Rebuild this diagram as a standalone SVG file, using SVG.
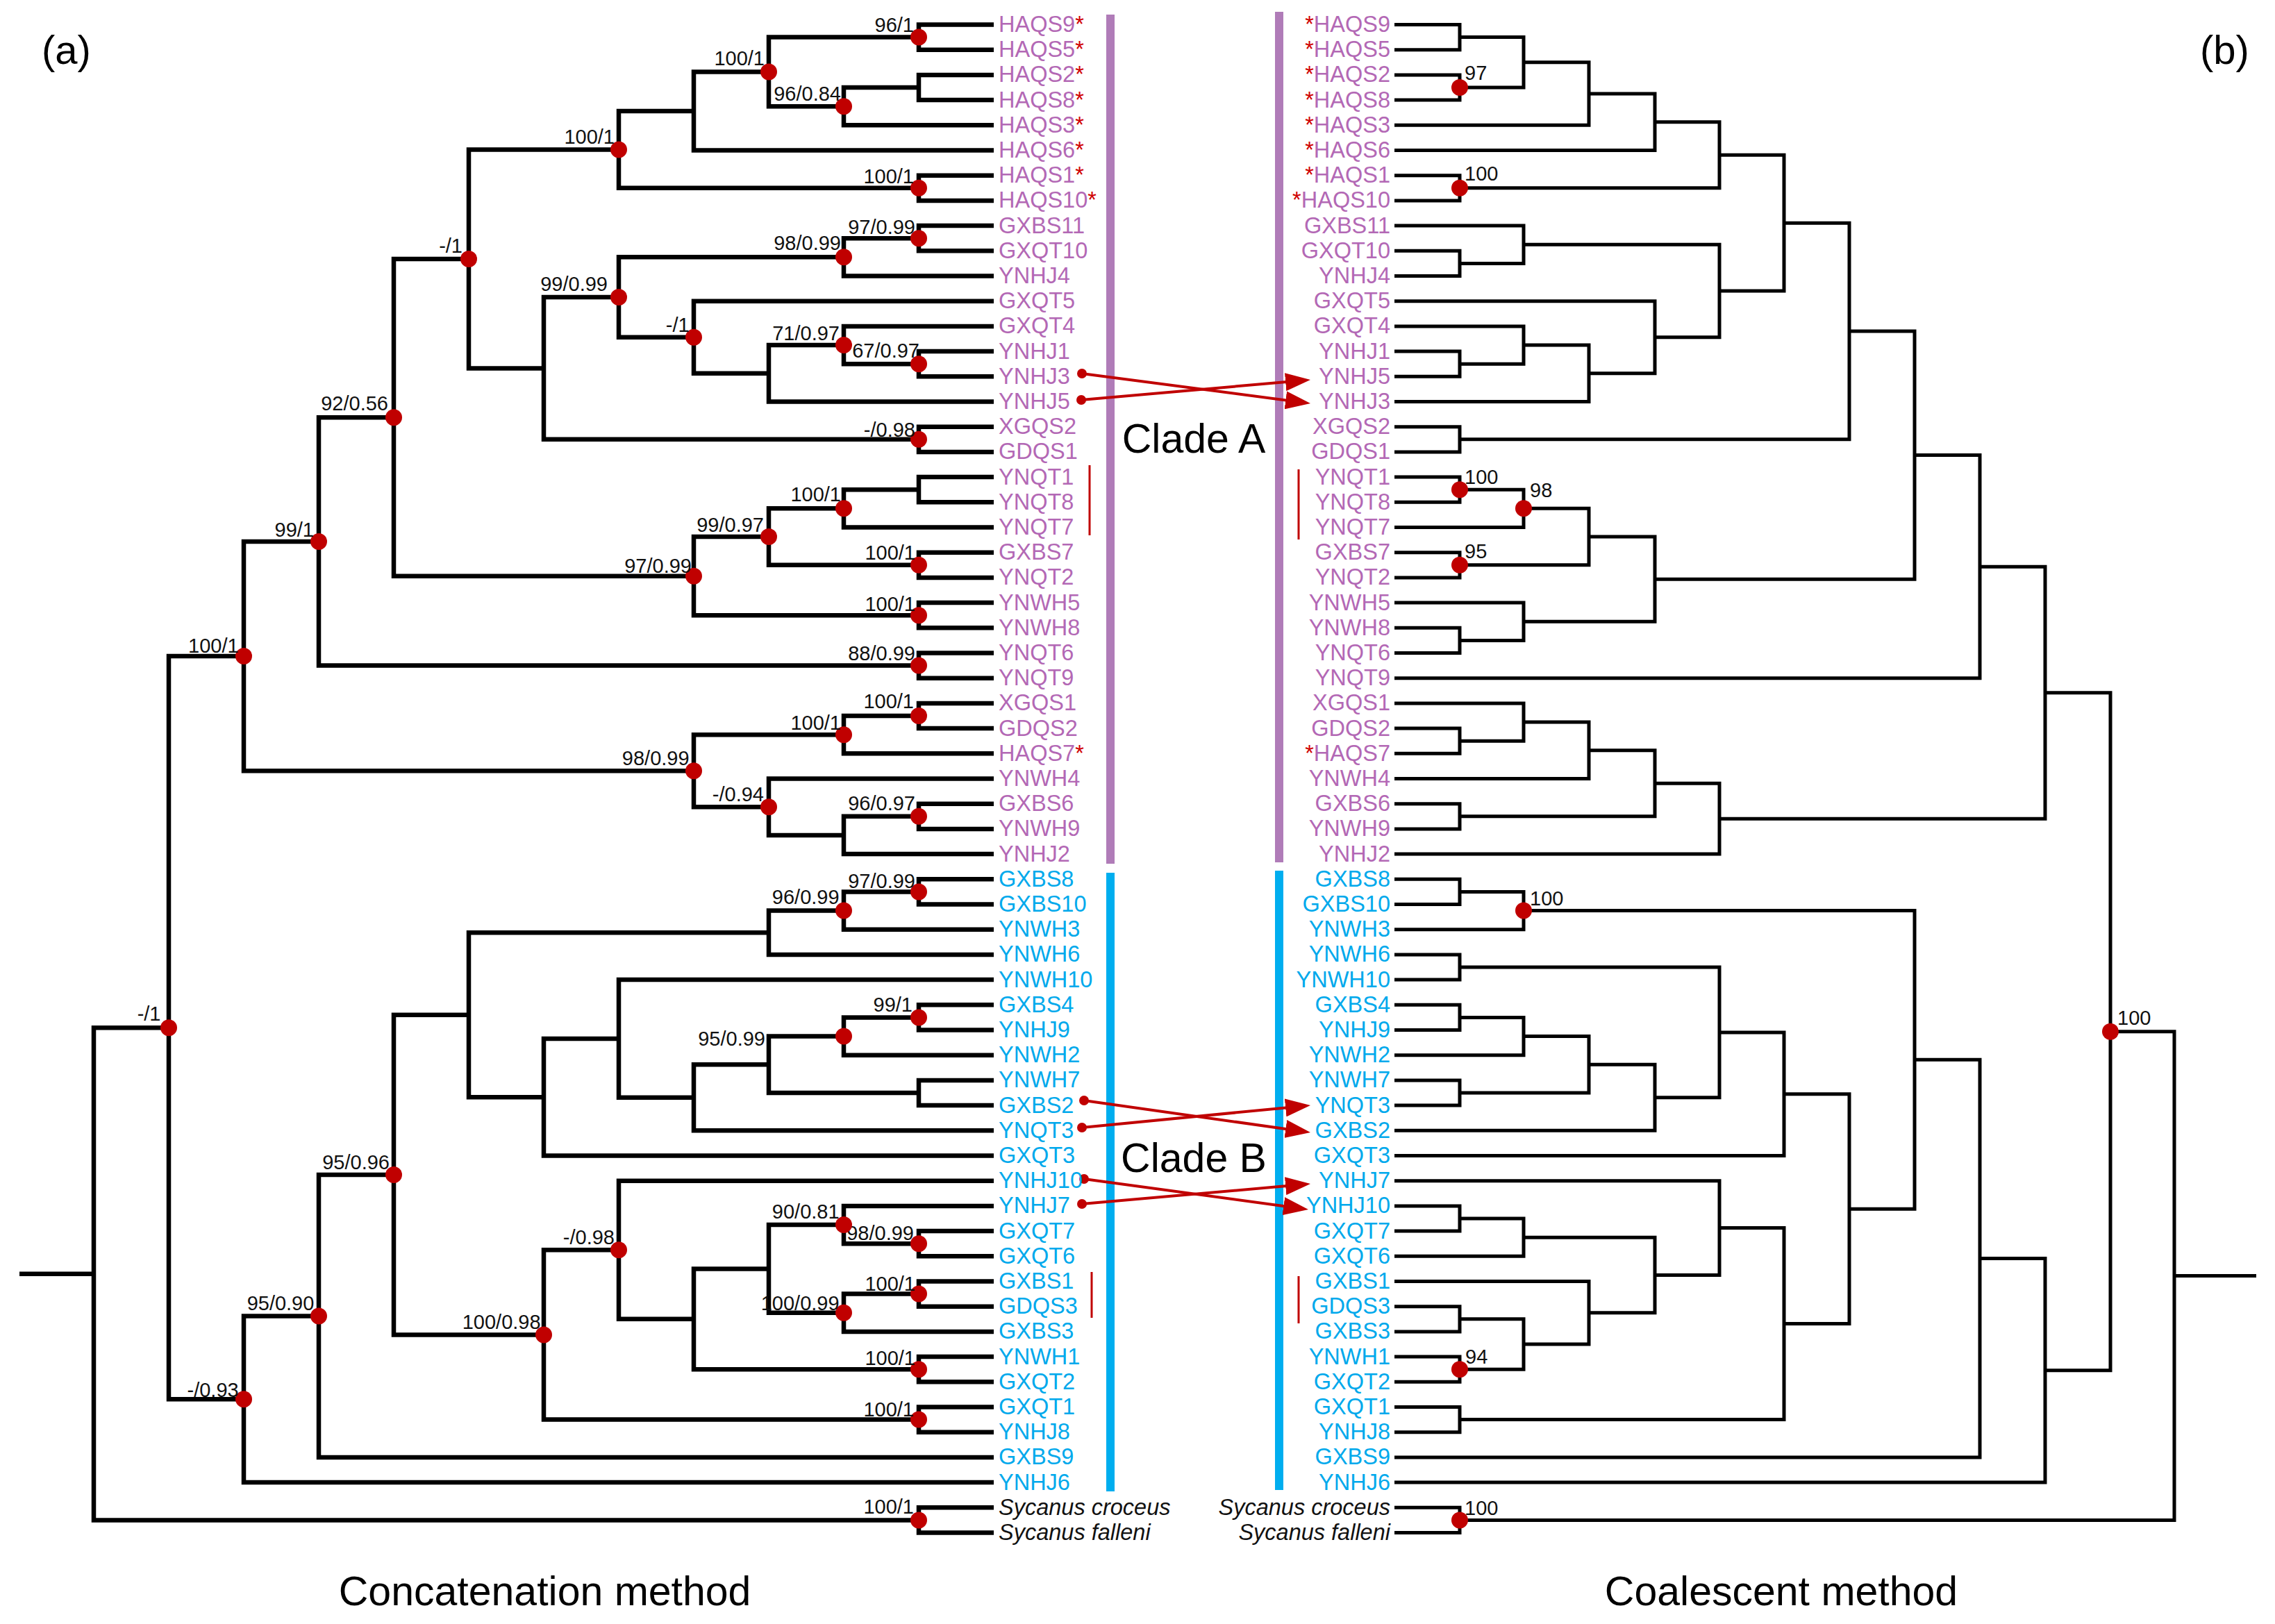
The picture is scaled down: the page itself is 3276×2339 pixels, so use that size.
<svg xmlns="http://www.w3.org/2000/svg" width="3276" height="2339" viewBox="0 0 3276 2339">
<style>
.ba{fill:none;stroke:#000;stroke-width:6.5;stroke-linejoin:miter}
.bb{fill:none;stroke:#000;stroke-width:5;stroke-linejoin:miter}
text{font-family:"Liberation Sans",Arial,sans-serif}
.la{font-size:32.5px;fill:#B368B5}
.lb{font-size:32.5px;fill:#00A9EC}
.lo{font-size:32.5px;fill:#111;font-style:italic}
.ast{fill:#D00000}
.r{text-anchor:end}
.sup{font-size:29px;fill:#111}
.dot{fill:#C00000}
.arr{stroke:#C00000;stroke-width:4;fill:none}
.sdot{fill:#C00000}
.big{font-size:59px;fill:#000}
.mid{text-anchor:middle}
.barA{fill:#B07CB8}
.barB{fill:#00AEEF}
.mark{stroke:#C00000;stroke-width:3}
</style>
<defs>
<marker id="ah" markerUnits="userSpaceOnUse" markerWidth="36" markerHeight="26" refX="16" refY="13" orient="auto">
<path d="M0,0 L36,13 L0,26 Z" fill="#C00000"/>
</marker>
</defs>
<rect width="3276" height="2339" fill="#fff"/>

<g id="titles">
<text x="60" y="92" font-size="58">(a)</text>
<text x="3168" y="92" font-size="58">(b)</text>
<text class="big mid" x="784.6" y="2312">Concatenation method</text>
<text class="big mid" x="2565" y="2312">Coalescent method</text>
</g>

<g id="clade-bars">
<rect class="barA" x="1593" y="21" width="12" height="1223"/>
<rect class="barA" x="1836" y="17" width="12" height="1225"/>
<rect class="barB" x="1593" y="1257" width="12" height="891"/>
<rect class="barB" x="1836" y="1254" width="12" height="892"/>
<text class="big mid" x="1719" y="652">Clade A</text>
<text class="big mid" x="1719" y="1688">Clade B</text>
<line class="mark" x1="1569" y1="670" x2="1569" y2="771"/>
<line class="mark" x1="1870" y1="676" x2="1870" y2="777"/>
<line class="mark" x1="1572" y1="1832" x2="1572" y2="1898"/>
<line class="mark" x1="1870" y1="1838" x2="1870" y2="1906"/>
</g>

<g id="connectors">
<g id="branches-concatenation" class="ba">
<path d="M1431 35.5H1323V71.7H1431"/>
<path d="M1431 107.9H1323V144.1H1431"/>
<path d="M1323 126H1215V180.3H1431"/>
<path d="M1323 53.6H1107V153.15H1215"/>
<path d="M1107 103.4H999V216.5H1431"/>
<path d="M1431 252.7H1323V288.9H1431"/>
<path d="M999 159.95H891V270.8H1323"/>
<path d="M1431 325.1H1323V361.3H1431"/>
<path d="M1323 343.2H1215V397.5H1431"/>
<path d="M1431 506.1H1323V542.3H1431"/>
<path d="M1431 469.9H1215V524.2H1323"/>
<path d="M1215 497.05H1107V578.5H1431"/>
<path d="M1431 433.7H999V537.8H1107"/>
<path d="M1215 370.35H891V485.75H999"/>
<path d="M1431 614.7H1323V650.9H1431"/>
<path d="M891 428.05H783V632.8H1323"/>
<path d="M891 215.4H675V530.4H783"/>
<path d="M1431 687.1H1323V723.3H1431"/>
<path d="M1323 705.2H1215V759.5H1431"/>
<path d="M1431 795.7H1323V831.9H1431"/>
<path d="M1215 732.35H1107V813.8H1323"/>
<path d="M1431 868.1H1323V904.3H1431"/>
<path d="M1107 773.1H999V886.2H1323"/>
<path d="M675 372.9H567V829.65H999"/>
<path d="M1431 940.5H1323V976.7H1431"/>
<path d="M567 601.3H459V958.6H1323"/>
<path d="M1431 1012.9H1323V1049.1H1431"/>
<path d="M1323 1031H1215V1085.3H1431"/>
<path d="M1431 1157.7H1323V1193.9H1431"/>
<path d="M1323 1175.8H1215V1230.1H1431"/>
<path d="M1431 1121.5H1107V1202.95H1215"/>
<path d="M1215 1058.15H999V1162.2H1107"/>
<path d="M459 779.95H351V1110.2H999"/>
<path d="M1431 1266.3H1323V1302.5H1431"/>
<path d="M1323 1284.4H1215V1338.7H1431"/>
<path d="M1215 1311.55H1107V1374.9H1431"/>
<path d="M1431 1447.3H1323V1483.5H1431"/>
<path d="M1323 1465.4H1215V1519.7H1431"/>
<path d="M1431 1555.9H1323V1592.1H1431"/>
<path d="M1215 1492.55H1107V1574H1323"/>
<path d="M1107 1533.3H999V1628.3H1431"/>
<path d="M1431 1411.1H891V1580.8H999"/>
<path d="M891 1495.95H783V1664.5H1431"/>
<path d="M1107 1343.2H675V1580.2H783"/>
<path d="M1431 1773.1H1323V1809.3H1431"/>
<path d="M1431 1736.9H1215V1791.2H1323"/>
<path d="M1431 1845.5H1323V1881.7H1431"/>
<path d="M1323 1863.6H1215V1917.9H1431"/>
<path d="M1215 1764.05H1107V1890.75H1215"/>
<path d="M1431 1954.1H1323V1990.3H1431"/>
<path d="M1107 1827.4H999V1972.2H1323"/>
<path d="M1431 1700.7H891V1899.8H999"/>
<path d="M1431 2026.5H1323V2062.7H1431"/>
<path d="M891 1800.25H783V2044.6H1323"/>
<path d="M675 1461.7H567V1922.4H783"/>
<path d="M567 1692.05H459V2098.9H1431"/>
<path d="M459 1895.5H351V2135.1H1431"/>
<path d="M351 945.1H243V2015.3H351"/>
<path d="M1431 2171.3H1323V2207.5H1431"/>
<path d="M243 1480.2H135V2189.4H1323"/>
<path d="M28 1834.8H135"/>
</g>
<g id="branches-coalescent" class="bb">
<path d="M2008 35.5H2102V71.7H2008"/>
<path d="M2008 107.9H2102V144.1H2008"/>
<path d="M2102 53.6H2194V126H2102"/>
<path d="M2194 89.8H2288V180.3H2008"/>
<path d="M2288 135.05H2383V216.5H2008"/>
<path d="M2008 252.7H2102V288.9H2008"/>
<path d="M2383 175.8H2476V270.8H2102"/>
<path d="M2008 361.3H2102V397.5H2008"/>
<path d="M2008 325.1H2194V379.4H2102"/>
<path d="M2008 506.1H2102V542.3H2008"/>
<path d="M2008 469.9H2194V524.2H2102"/>
<path d="M2194 497.05H2288V578.5H2008"/>
<path d="M2008 433.7H2383V537.8H2288"/>
<path d="M2194 352.25H2476V485.75H2383"/>
<path d="M2476 223.3H2569V419H2476"/>
<path d="M2008 614.7H2102V650.9H2008"/>
<path d="M2569 321.15H2663V632.8H2102"/>
<path d="M2008 687.1H2102V723.3H2008"/>
<path d="M2102 705.2H2194V759.5H2008"/>
<path d="M2008 795.7H2102V831.9H2008"/>
<path d="M2194 732.35H2288V813.8H2102"/>
<path d="M2008 904.3H2102V940.5H2008"/>
<path d="M2008 868.1H2194V922.4H2102"/>
<path d="M2288 773.1H2383V895.25H2194"/>
<path d="M2663 477H2757V834.2H2383"/>
<path d="M2757 655.6H2851V976.7H2008"/>
<path d="M2008 1049.1H2102V1085.3H2008"/>
<path d="M2008 1012.9H2194V1067.2H2102"/>
<path d="M2194 1040.05H2288V1121.5H2008"/>
<path d="M2008 1157.7H2102V1193.9H2008"/>
<path d="M2288 1080.8H2383V1175.8H2102"/>
<path d="M2383 1128.3H2476V1230.1H2008"/>
<path d="M2851 816.15H2945V1179.2H2476"/>
<path d="M2008 1266.3H2102V1302.5H2008"/>
<path d="M2102 1284.4H2194V1338.7H2008"/>
<path d="M2008 1374.9H2102V1411.1H2008"/>
<path d="M2008 1447.3H2102V1483.5H2008"/>
<path d="M2102 1465.4H2194V1519.7H2008"/>
<path d="M2008 1555.9H2102V1592.1H2008"/>
<path d="M2194 1492.55H2288V1574H2102"/>
<path d="M2288 1533.3H2383V1628.3H2008"/>
<path d="M2102 1393H2476V1580.8H2383"/>
<path d="M2476 1486.9H2569V1664.5H2008"/>
<path d="M2008 1736.9H2102V1773.1H2008"/>
<path d="M2102 1755H2194V1809.3H2008"/>
<path d="M2008 1881.7H2102V1917.9H2008"/>
<path d="M2008 1954.1H2102V1990.3H2008"/>
<path d="M2102 1899.8H2194V1972.2H2102"/>
<path d="M2008 1845.5H2288V1936H2194"/>
<path d="M2194 1782.15H2383V1890.75H2288"/>
<path d="M2008 1700.7H2476V1836.45H2383"/>
<path d="M2008 2026.5H2102V2062.7H2008"/>
<path d="M2476 1768.6H2569V2044.6H2102"/>
<path d="M2569 1575.7H2663V1906.6H2569"/>
<path d="M2194 1311.55H2757V1741.15H2663"/>
<path d="M2757 1526.35H2851V2098.9H2008"/>
<path d="M2851 1812.6H2945V2135.1H2008"/>
<path d="M2945 997.7H3039V1973.85H2945"/>
<path d="M2008 2171.3H2102V2207.5H2008"/>
<path d="M3039 1485.8H3131V2189.4H2102"/>
<path d="M3131 1837.6H3249"/>
</g>
<g id="swap-arrows">
<line class="arr" x1="1558" y1="538" x2="1867.2" y2="578.4" marker-end="url(#ah)"/>
<line class="arr" x1="1557" y1="576" x2="1867.1" y2="548.75" marker-end="url(#ah)"/>
<line class="arr" x1="1561" y1="1585" x2="1867.2" y2="1628.2" marker-end="url(#ah)"/>
<line class="arr" x1="1558" y1="1624" x2="1867.1" y2="1593.9" marker-end="url(#ah)"/>
<line class="arr" x1="1561" y1="1698" x2="1864.2" y2="1739.3" marker-end="url(#ah)"/>
<line class="arr" x1="1558" y1="1734" x2="1867.1" y2="1706.8" marker-end="url(#ah)"/>
<circle class="sdot" cx="1558" cy="538" r="7"/>
<circle class="sdot" cx="1557" cy="576" r="7"/>
<circle class="sdot" cx="1561" cy="1585" r="7"/>
<circle class="sdot" cx="1558" cy="1624" r="7"/>
<circle class="sdot" cx="1561" cy="1698" r="7"/>
<circle class="sdot" cx="1558" cy="1734" r="7"/>
</g>
</g>

<g id="leaves-concatenation">
<g id="c-HAQS9"><text class="la" x="1438" y="46">HAQS9<tspan class="ast">*</tspan></text></g>
<g id="c-HAQS5"><text class="la" x="1438" y="82.2">HAQS5<tspan class="ast">*</tspan></text></g>
<g id="c-HAQS2"><text class="la" x="1438" y="118.4">HAQS2<tspan class="ast">*</tspan></text></g>
<g id="c-HAQS8"><text class="la" x="1438" y="154.6">HAQS8<tspan class="ast">*</tspan></text></g>
<g id="c-HAQS3"><text class="la" x="1438" y="190.8">HAQS3<tspan class="ast">*</tspan></text></g>
<g id="c-HAQS6"><text class="la" x="1438" y="227">HAQS6<tspan class="ast">*</tspan></text></g>
<g id="c-HAQS1"><text class="la" x="1438" y="263.2">HAQS1<tspan class="ast">*</tspan></text></g>
<g id="c-HAQS10"><text class="la" x="1438" y="299.4">HAQS10<tspan class="ast">*</tspan></text></g>
<g id="c-GXBS11"><text class="la" x="1438" y="335.6">GXBS11</text></g>
<g id="c-GXQT10"><text class="la" x="1438" y="371.8">GXQT10</text></g>
<g id="c-YNHJ4"><text class="la" x="1438" y="408">YNHJ4</text></g>
<g id="c-GXQT5"><text class="la" x="1438" y="444.2">GXQT5</text></g>
<g id="c-GXQT4"><text class="la" x="1438" y="480.4">GXQT4</text></g>
<g id="c-YNHJ1"><text class="la" x="1438" y="516.6">YNHJ1</text></g>
<g id="c-YNHJ3"><text class="la" x="1438" y="552.8">YNHJ3</text></g>
<g id="c-YNHJ5"><text class="la" x="1438" y="589">YNHJ5</text></g>
<g id="c-XGQS2"><text class="la" x="1438" y="625.2">XGQS2</text></g>
<g id="c-GDQS1"><text class="la" x="1438" y="661.4">GDQS1</text></g>
<g id="c-YNQT1"><text class="la" x="1438" y="697.6">YNQT1</text></g>
<g id="c-YNQT8"><text class="la" x="1438" y="733.8">YNQT8</text></g>
<g id="c-YNQT7"><text class="la" x="1438" y="770">YNQT7</text></g>
<g id="c-GXBS7"><text class="la" x="1438" y="806.2">GXBS7</text></g>
<g id="c-YNQT2"><text class="la" x="1438" y="842.4">YNQT2</text></g>
<g id="c-YNWH5"><text class="la" x="1438" y="878.6">YNWH5</text></g>
<g id="c-YNWH8"><text class="la" x="1438" y="914.8">YNWH8</text></g>
<g id="c-YNQT6"><text class="la" x="1438" y="951">YNQT6</text></g>
<g id="c-YNQT9"><text class="la" x="1438" y="987.2">YNQT9</text></g>
<g id="c-XGQS1"><text class="la" x="1438" y="1023.4">XGQS1</text></g>
<g id="c-GDQS2"><text class="la" x="1438" y="1059.6">GDQS2</text></g>
<g id="c-HAQS7"><text class="la" x="1438" y="1095.8">HAQS7<tspan class="ast">*</tspan></text></g>
<g id="c-YNWH4"><text class="la" x="1438" y="1132">YNWH4</text></g>
<g id="c-GXBS6"><text class="la" x="1438" y="1168.2">GXBS6</text></g>
<g id="c-YNWH9"><text class="la" x="1438" y="1204.4">YNWH9</text></g>
<g id="c-YNHJ2"><text class="la" x="1438" y="1240.6">YNHJ2</text></g>
<g id="c-GXBS8"><text class="lb" x="1438" y="1276.8">GXBS8</text></g>
<g id="c-GXBS10"><text class="lb" x="1438" y="1313">GXBS10</text></g>
<g id="c-YNWH3"><text class="lb" x="1438" y="1349.2">YNWH3</text></g>
<g id="c-YNWH6"><text class="lb" x="1438" y="1385.4">YNWH6</text></g>
<g id="c-YNWH10"><text class="lb" x="1438" y="1421.6">YNWH10</text></g>
<g id="c-GXBS4"><text class="lb" x="1438" y="1457.8">GXBS4</text></g>
<g id="c-YNHJ9"><text class="lb" x="1438" y="1494">YNHJ9</text></g>
<g id="c-YNWH2"><text class="lb" x="1438" y="1530.2">YNWH2</text></g>
<g id="c-YNWH7"><text class="lb" x="1438" y="1566.4">YNWH7</text></g>
<g id="c-GXBS2"><text class="lb" x="1438" y="1602.6">GXBS2</text></g>
<g id="c-YNQT3"><text class="lb" x="1438" y="1638.8">YNQT3</text></g>
<g id="c-GXQT3"><text class="lb" x="1438" y="1675">GXQT3</text></g>
<g id="c-YNHJ10"><text class="lb" x="1438" y="1711.2">YNHJ10</text></g>
<g id="c-YNHJ7"><text class="lb" x="1438" y="1747.4">YNHJ7</text></g>
<g id="c-GXQT7"><text class="lb" x="1438" y="1783.6">GXQT7</text></g>
<g id="c-GXQT6"><text class="lb" x="1438" y="1819.8">GXQT6</text></g>
<g id="c-GXBS1"><text class="lb" x="1438" y="1856">GXBS1</text></g>
<g id="c-GDQS3"><text class="lb" x="1438" y="1892.2">GDQS3</text></g>
<g id="c-GXBS3"><text class="lb" x="1438" y="1928.4">GXBS3</text></g>
<g id="c-YNWH1"><text class="lb" x="1438" y="1964.6">YNWH1</text></g>
<g id="c-GXQT2"><text class="lb" x="1438" y="2000.8">GXQT2</text></g>
<g id="c-GXQT1"><text class="lb" x="1438" y="2037">GXQT1</text></g>
<g id="c-YNHJ8"><text class="lb" x="1438" y="2073.2">YNHJ8</text></g>
<g id="c-GXBS9"><text class="lb" x="1438" y="2109.4">GXBS9</text></g>
<g id="c-YNHJ6"><text class="lb" x="1438" y="2145.6">YNHJ6</text></g>
<g id="c-Scroceus"><text class="lo" x="1438" y="2181.8">Sycanus croceus</text></g>
<g id="c-Sfalleni"><text class="lo" x="1438" y="2218">Sycanus falleni</text></g>
</g>

<g id="leaves-coalescent">
<g id="k-HAQS9"><text class="la r" x="2002" y="46"><tspan class="ast">*</tspan>HAQS9</text></g>
<g id="k-HAQS5"><text class="la r" x="2002" y="82.2"><tspan class="ast">*</tspan>HAQS5</text></g>
<g id="k-HAQS2"><text class="la r" x="2002" y="118.4"><tspan class="ast">*</tspan>HAQS2</text></g>
<g id="k-HAQS8"><text class="la r" x="2002" y="154.6"><tspan class="ast">*</tspan>HAQS8</text></g>
<g id="k-HAQS3"><text class="la r" x="2002" y="190.8"><tspan class="ast">*</tspan>HAQS3</text></g>
<g id="k-HAQS6"><text class="la r" x="2002" y="227"><tspan class="ast">*</tspan>HAQS6</text></g>
<g id="k-HAQS1"><text class="la r" x="2002" y="263.2"><tspan class="ast">*</tspan>HAQS1</text></g>
<g id="k-HAQS10"><text class="la r" x="2002" y="299.4"><tspan class="ast">*</tspan>HAQS10</text></g>
<g id="k-GXBS11"><text class="la r" x="2002" y="335.6">GXBS11</text></g>
<g id="k-GXQT10"><text class="la r" x="2002" y="371.8">GXQT10</text></g>
<g id="k-YNHJ4"><text class="la r" x="2002" y="408">YNHJ4</text></g>
<g id="k-GXQT5"><text class="la r" x="2002" y="444.2">GXQT5</text></g>
<g id="k-GXQT4"><text class="la r" x="2002" y="480.4">GXQT4</text></g>
<g id="k-YNHJ1"><text class="la r" x="2002" y="516.6">YNHJ1</text></g>
<g id="k-YNHJ5"><text class="la r" x="2002" y="552.8">YNHJ5</text></g>
<g id="k-YNHJ3"><text class="la r" x="2002" y="589">YNHJ3</text></g>
<g id="k-XGQS2"><text class="la r" x="2002" y="625.2">XGQS2</text></g>
<g id="k-GDQS1"><text class="la r" x="2002" y="661.4">GDQS1</text></g>
<g id="k-YNQT1"><text class="la r" x="2002" y="697.6">YNQT1</text></g>
<g id="k-YNQT8"><text class="la r" x="2002" y="733.8">YNQT8</text></g>
<g id="k-YNQT7"><text class="la r" x="2002" y="770">YNQT7</text></g>
<g id="k-GXBS7"><text class="la r" x="2002" y="806.2">GXBS7</text></g>
<g id="k-YNQT2"><text class="la r" x="2002" y="842.4">YNQT2</text></g>
<g id="k-YNWH5"><text class="la r" x="2002" y="878.6">YNWH5</text></g>
<g id="k-YNWH8"><text class="la r" x="2002" y="914.8">YNWH8</text></g>
<g id="k-YNQT6"><text class="la r" x="2002" y="951">YNQT6</text></g>
<g id="k-YNQT9"><text class="la r" x="2002" y="987.2">YNQT9</text></g>
<g id="k-XGQS1"><text class="la r" x="2002" y="1023.4">XGQS1</text></g>
<g id="k-GDQS2"><text class="la r" x="2002" y="1059.6">GDQS2</text></g>
<g id="k-HAQS7"><text class="la r" x="2002" y="1095.8"><tspan class="ast">*</tspan>HAQS7</text></g>
<g id="k-YNWH4"><text class="la r" x="2002" y="1132">YNWH4</text></g>
<g id="k-GXBS6"><text class="la r" x="2002" y="1168.2">GXBS6</text></g>
<g id="k-YNWH9"><text class="la r" x="2002" y="1204.4">YNWH9</text></g>
<g id="k-YNHJ2"><text class="la r" x="2002" y="1240.6">YNHJ2</text></g>
<g id="k-GXBS8"><text class="lb r" x="2002" y="1276.8">GXBS8</text></g>
<g id="k-GXBS10"><text class="lb r" x="2002" y="1313">GXBS10</text></g>
<g id="k-YNWH3"><text class="lb r" x="2002" y="1349.2">YNWH3</text></g>
<g id="k-YNWH6"><text class="lb r" x="2002" y="1385.4">YNWH6</text></g>
<g id="k-YNWH10"><text class="lb r" x="2002" y="1421.6">YNWH10</text></g>
<g id="k-GXBS4"><text class="lb r" x="2002" y="1457.8">GXBS4</text></g>
<g id="k-YNHJ9"><text class="lb r" x="2002" y="1494">YNHJ9</text></g>
<g id="k-YNWH2"><text class="lb r" x="2002" y="1530.2">YNWH2</text></g>
<g id="k-YNWH7"><text class="lb r" x="2002" y="1566.4">YNWH7</text></g>
<g id="k-YNQT3"><text class="lb r" x="2002" y="1602.6">YNQT3</text></g>
<g id="k-GXBS2"><text class="lb r" x="2002" y="1638.8">GXBS2</text></g>
<g id="k-GXQT3"><text class="lb r" x="2002" y="1675">GXQT3</text></g>
<g id="k-YNHJ7"><text class="lb r" x="2002" y="1711.2">YNHJ7</text></g>
<g id="k-YNHJ10"><text class="lb r" x="2002" y="1747.4">YNHJ10</text></g>
<g id="k-GXQT7"><text class="lb r" x="2002" y="1783.6">GXQT7</text></g>
<g id="k-GXQT6"><text class="lb r" x="2002" y="1819.8">GXQT6</text></g>
<g id="k-GXBS1"><text class="lb r" x="2002" y="1856">GXBS1</text></g>
<g id="k-GDQS3"><text class="lb r" x="2002" y="1892.2">GDQS3</text></g>
<g id="k-GXBS3"><text class="lb r" x="2002" y="1928.4">GXBS3</text></g>
<g id="k-YNWH1"><text class="lb r" x="2002" y="1964.6">YNWH1</text></g>
<g id="k-GXQT2"><text class="lb r" x="2002" y="2000.8">GXQT2</text></g>
<g id="k-GXQT1"><text class="lb r" x="2002" y="2037">GXQT1</text></g>
<g id="k-YNHJ8"><text class="lb r" x="2002" y="2073.2">YNHJ8</text></g>
<g id="k-GXBS9"><text class="lb r" x="2002" y="2109.4">GXBS9</text></g>
<g id="k-YNHJ6"><text class="lb r" x="2002" y="2145.6">YNHJ6</text></g>
<g id="k-Scroceus"><text class="lo r" x="2002" y="2181.8">Sycanus croceus</text></g>
<g id="k-Sfalleni"><text class="lo r" x="2002" y="2218">Sycanus falleni</text></g>
</g>

<g id="support-concatenation">
<g id="cn-a1"><circle class="dot" cx="1323" cy="53.6" r="12"/><text class="sup r" x="1316" y="46">96/1</text></g>
<g id="cn-a3"><circle class="dot" cx="1215" cy="153.15" r="12"/><text class="sup r" x="1211" y="144.7">96/0.84</text></g>
<g id="cn-a4"><circle class="dot" cx="1107" cy="103.4" r="12"/><text class="sup r" x="1101" y="94">100/1</text></g>
<g id="cn-a6"><circle class="dot" cx="1323" cy="270.8" r="12"/><text class="sup r" x="1316" y="264">100/1</text></g>
<g id="cn-a7"><circle class="dot" cx="891" cy="215.4" r="12"/><text class="sup r" x="885" y="206.7">100/1</text></g>
<g id="cn-a8"><circle class="dot" cx="1323" cy="343.2" r="12"/><text class="sup r" x="1318" y="336.8">97/0.99</text></g>
<g id="cn-a9"><circle class="dot" cx="1215" cy="370.35" r="12"/><text class="sup r" x="1211" y="359.7">98/0.99</text></g>
<g id="cn-a10"><circle class="dot" cx="1323" cy="524.2" r="12"/><text class="sup r" x="1324" y="514.7">67/0.97</text></g>
<g id="cn-a11"><circle class="dot" cx="1215" cy="497.05" r="12"/><text class="sup r" x="1209" y="490">71/0.97</text></g>
<g id="cn-a13"><circle class="dot" cx="999" cy="485.75" r="12"/><text class="sup r" x="992.6" y="478">-/1</text></g>
<g id="cn-a14"><circle class="dot" cx="891" cy="428.05" r="12"/><text class="sup r" x="875" y="419">99/0.99</text></g>
<g id="cn-a15"><circle class="dot" cx="1323" cy="632.8" r="12"/><text class="sup r" x="1318" y="629">-/0.98</text></g>
<g id="cn-a17"><circle class="dot" cx="675" cy="372.9" r="12"/><text class="sup r" x="666" y="363.6">-/1</text></g>
<g id="cn-a19"><circle class="dot" cx="1215" cy="732.35" r="12"/><text class="sup r" x="1211" y="721.6">100/1</text></g>
<g id="cn-a20"><circle class="dot" cx="1323" cy="813.8" r="12"/><text class="sup r" x="1318" y="805.8">100/1</text></g>
<g id="cn-a21"><circle class="dot" cx="1107" cy="773.1" r="12"/><text class="sup r" x="1100" y="765.6">99/0.97</text></g>
<g id="cn-a22"><circle class="dot" cx="1323" cy="886.2" r="12"/><text class="sup r" x="1318" y="880">100/1</text></g>
<g id="cn-a23"><circle class="dot" cx="999" cy="829.65" r="12"/><text class="sup r" x="996" y="825">97/0.99</text></g>
<g id="cn-a24"><circle class="dot" cx="567" cy="601.3" r="12"/><text class="sup r" x="559" y="591">92/0.56</text></g>
<g id="cn-a25"><circle class="dot" cx="1323" cy="958.6" r="12"/><text class="sup r" x="1318" y="951">88/0.99</text></g>
<g id="cn-a26"><circle class="dot" cx="459" cy="779.95" r="12"/><text class="sup r" x="452" y="773">99/1</text></g>
<g id="cn-a27"><circle class="dot" cx="1323" cy="1031" r="12"/><text class="sup r" x="1316" y="1020">100/1</text></g>
<g id="cn-a28"><circle class="dot" cx="1215" cy="1058.15" r="12"/><text class="sup r" x="1211" y="1050.7">100/1</text></g>
<g id="cn-a29"><circle class="dot" cx="1323" cy="1175.8" r="12"/><text class="sup r" x="1318" y="1167.4">96/0.97</text></g>
<g id="cn-a31"><circle class="dot" cx="1107" cy="1162.2" r="12"/><text class="sup r" x="1100" y="1154">-/0.94</text></g>
<g id="cn-a32"><circle class="dot" cx="999" cy="1110.2" r="12"/><text class="sup r" x="992.6" y="1102.4">98/0.99</text></g>
<g id="cn-a33"><circle class="dot" cx="351" cy="945.1" r="12"/><text class="sup r" x="343.7" y="939.7">100/1</text></g>
<g id="cn-b1"><circle class="dot" cx="1323" cy="1284.4" r="12"/><text class="sup r" x="1318" y="1278.6">97/0.99</text></g>
<g id="cn-b2"><circle class="dot" cx="1215" cy="1311.55" r="12"/><text class="sup r" x="1208.6" y="1301.6">96/0.99</text></g>
<g id="cn-b4"><circle class="dot" cx="1323" cy="1465.4" r="12"/><text class="sup r" x="1314" y="1456.6">99/1</text></g>
<g id="cn-b5"><circle class="dot" cx="1215" cy="1492.55" r="12"/><text class="sup r" x="1102" y="1506">95/0.99</text></g>
<g id="cn-b12"><circle class="dot" cx="1323" cy="1791.2" r="12"/><text class="sup r" x="1316" y="1786">98/0.99</text></g>
<g id="cn-b13"><circle class="dot" cx="1215" cy="1764.05" r="12"/><text class="sup r" x="1208.6" y="1755">90/0.81</text></g>
<g id="cn-b14"><circle class="dot" cx="1323" cy="1863.6" r="12"/><text class="sup r" x="1318" y="1858.6">100/1</text></g>
<g id="cn-b15"><circle class="dot" cx="1215" cy="1890.75" r="12"/><text class="sup r" x="1208.6" y="1887.3">100/0.99</text></g>
<g id="cn-b17"><circle class="dot" cx="1323" cy="1972.2" r="12"/><text class="sup r" x="1318" y="1965.8">100/1</text></g>
<g id="cn-b19"><circle class="dot" cx="891" cy="1800.25" r="12"/><text class="sup r" x="885" y="1791.7">-/0.98</text></g>
<g id="cn-b20"><circle class="dot" cx="1323" cy="2044.6" r="12"/><text class="sup r" x="1316" y="2040.4">100/1</text></g>
<g id="cn-b21"><circle class="dot" cx="783" cy="1922.4" r="12"/><text class="sup r" x="778.6" y="1914">100/0.98</text></g>
<g id="cn-b22"><circle class="dot" cx="567" cy="1692.05" r="12"/><text class="sup r" x="561" y="1684">95/0.96</text></g>
<g id="cn-b23"><circle class="dot" cx="459" cy="1895.5" r="12"/><text class="sup r" x="452.4" y="1887">95/0.90</text></g>
<g id="cn-b24"><circle class="dot" cx="351" cy="2015.3" r="12"/><text class="sup r" x="343.7" y="2011.7">-/0.93</text></g>
<g id="cn-b25"><circle class="dot" cx="243" cy="1480.2" r="12"/><text class="sup r" x="231.5" y="1470">-/1</text></g>
<g id="cn-o1"><circle class="dot" cx="1323" cy="2189.4" r="12"/><text class="sup r" x="1316" y="2180">100/1</text></g>
</g>

<g id="support-coalescent">
<g id="kn-r2"><circle class="dot" cx="2102" cy="126" r="12"/><text class="sup" x="2109" y="115">97</text></g>
<g id="kn-r6"><circle class="dot" cx="2102" cy="270.8" r="12"/><text class="sup" x="2109" y="260">100</text></g>
<g id="kn-r18"><circle class="dot" cx="2102" cy="705.2" r="12"/><text class="sup" x="2109" y="696.7">100</text></g>
<g id="kn-r19"><circle class="dot" cx="2194" cy="732.35" r="12"/><text class="sup" x="2203" y="716">98</text></g>
<g id="kn-r20"><circle class="dot" cx="2102" cy="813.8" r="12"/><text class="sup" x="2109" y="804">95</text></g>
<g id="kn-s2"><circle class="dot" cx="2194" cy="1311.55" r="12"/><text class="sup" x="2203" y="1303.5">100</text></g>
<g id="kn-s14"><circle class="dot" cx="2102" cy="1972.2" r="12"/><text class="sup" x="2110" y="1964">94</text></g>
<g id="kn-s25"><circle class="dot" cx="3039" cy="1485.8" r="12"/><text class="sup" x="3049" y="1475.7">100</text></g>
<g id="kn-o2"><circle class="dot" cx="2102" cy="2189.4" r="12"/><text class="sup" x="2109" y="2182">100</text></g>
</g>
</svg>
